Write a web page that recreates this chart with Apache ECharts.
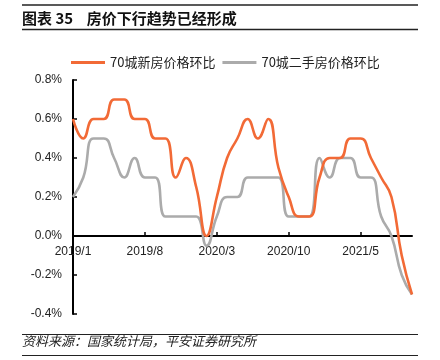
<!DOCTYPE html>
<html>
<head>
<meta charset="utf-8">
<script src="https://cdn.jsdelivr.net/npm/echarts@6/dist/echarts.min.js"></script>
<style>
html,body{margin:0;padding:0;background:#fff;}
#chart{width:440px;height:360px;}
</style>
</head>
<body>
<div id="chart"></div>
<script>
const categories = [
  '2019/1','2019/2','2019/3','2019/4','2019/5','2019/6','2019/7','2019/8','2019/9','2019/10','2019/11','2019/12',
  '2020/1','2020/2','2020/3','2020/4','2020/5','2020/6','2020/7','2020/8','2020/9','2020/10','2020/11','2020/12',
  '2021/1','2021/2','2021/3','2021/4','2021/5','2021/6','2021/7','2021/8','2021/9','2021/10'
];
const newHome = [
  0.6,0.5,0.6,0.6,0.7,0.7,0.6,0.6,0.5,0.5,0.3,0.4,
  0.25,0.0,0.2,0.4,0.5,0.6,0.5,0.6,0.35,0.2,0.1,0.1,
  0.3,0.4,0.4,0.5,0.5,0.4,0.3,0.2,-0.1,-0.3
];
const secondHand = [
  0.2,0.3,0.5,0.5,0.4,0.3,0.4,0.3,0.3,0.1,0.1,0.1,
  0.1,-0.05,0.1,0.2,0.2,0.3,0.3,0.3,0.3,0.1,0.1,0.1,
  0.4,0.3,0.4,0.4,0.3,0.3,0.1,0.0,-0.2,-0.3
];
const seriesNames = ['70城新房价格环比','70城二手房价格环比'];
const titleText = '图表 35    房价下行趋势已经形成';
const sourceText = '资料来源：国家统计局，平安证券研究所';

const chart = echarts.init(document.getElementById('chart'), null, {renderer:'canvas'});
const cjk = '"Noto Sans CJK SC", "Liberation Sans", sans-serif';
const num = '"Liberation Sans", Arial, sans-serif';
const gridTop = 80, gridBottom = 46, yMin = -0.4, yMax = 0.8;
const plotH = 360 - gridTop - gridBottom;
const zeroOffset = -plotH * (0 - yMin) / (yMax - yMin);
chart.setOption({
  animation:false,
  backgroundColor:'#fff',
  grid:{left:73, right:28, top:gridTop, bottom:gridBottom, containLabel:false},
  legend:{
    left:66, top:51,
    icon:'rect', itemWidth:34, itemHeight:3, itemGap:7,
    textStyle:{fontFamily:cjk, fontSize:13, color:'#222'},
    data:seriesNames
  },
  xAxis:{
    type:'category', data:categories, boundaryGap:false,
    offset:zeroOffset,
    axisLine:{onZero:false, lineStyle:{color:'#000', width:2}},
    axisTick:{inside:true, length:4, interval:6, lineStyle:{color:'#000', width:1.5}},
    axisLabel:{interval:6, margin:10, fontFamily:num, fontSize:12, color:'#222'},
    splitLine:{show:false}
  },
  yAxis:{
    type:'value', min:yMin, max:yMax, interval:0.2,
    axisLine:{show:true, lineStyle:{color:'#000', width:2}},
    axisTick:{show:true, inside:true, length:4, lineStyle:{color:'#000', width:1.5}},
    axisLabel:{margin:11, fontFamily:num, fontSize:12, color:'#222',
      formatter:v=>v.toFixed(1)+'%'},
    splitLine:{show:false}
  },
  series:[
    {name:seriesNames[0], type:'line', data:newHome, smooth:0.5, showSymbol:false,
     lineStyle:{color:'#F26A36', width:2.6}, itemStyle:{color:'#F26A36'}, z:3},
    {name:seriesNames[1], type:'line', data:secondHand, smooth:0.5, showSymbol:false,
     lineStyle:{color:'#ABABAB', width:2.6}, itemStyle:{color:'#ABABAB'}, z:2}
  ],
  graphic:[
    {type:'line', shape:{x1:22,y1:5,x2:418,y2:5}, style:{stroke:'#222', lineWidth:1.5}},
    {type:'text', left:22, top:11, style:{text:titleText, fontFamily:cjk, fontSize:15, fontWeight:'bold', fill:'#111'}},
    {type:'line', shape:{x1:22,y1:29.5,x2:418,y2:29.5}, style:{stroke:'#222', lineWidth:1.5}},
    {type:'line', shape:{x1:22,y1:334.5,x2:418,y2:334.5}, style:{stroke:'#222', lineWidth:1.2}},
    {type:'text', left:22, top:335, style:{text:sourceText, fontFamily:cjk, fontSize:13, fontStyle:'italic', fill:'#222'}},
    {type:'line', shape:{x1:22,y1:355.5,x2:418,y2:355.5}, style:{stroke:'#222', lineWidth:1.2}}
  ]
});
</script>
</body>
</html>
